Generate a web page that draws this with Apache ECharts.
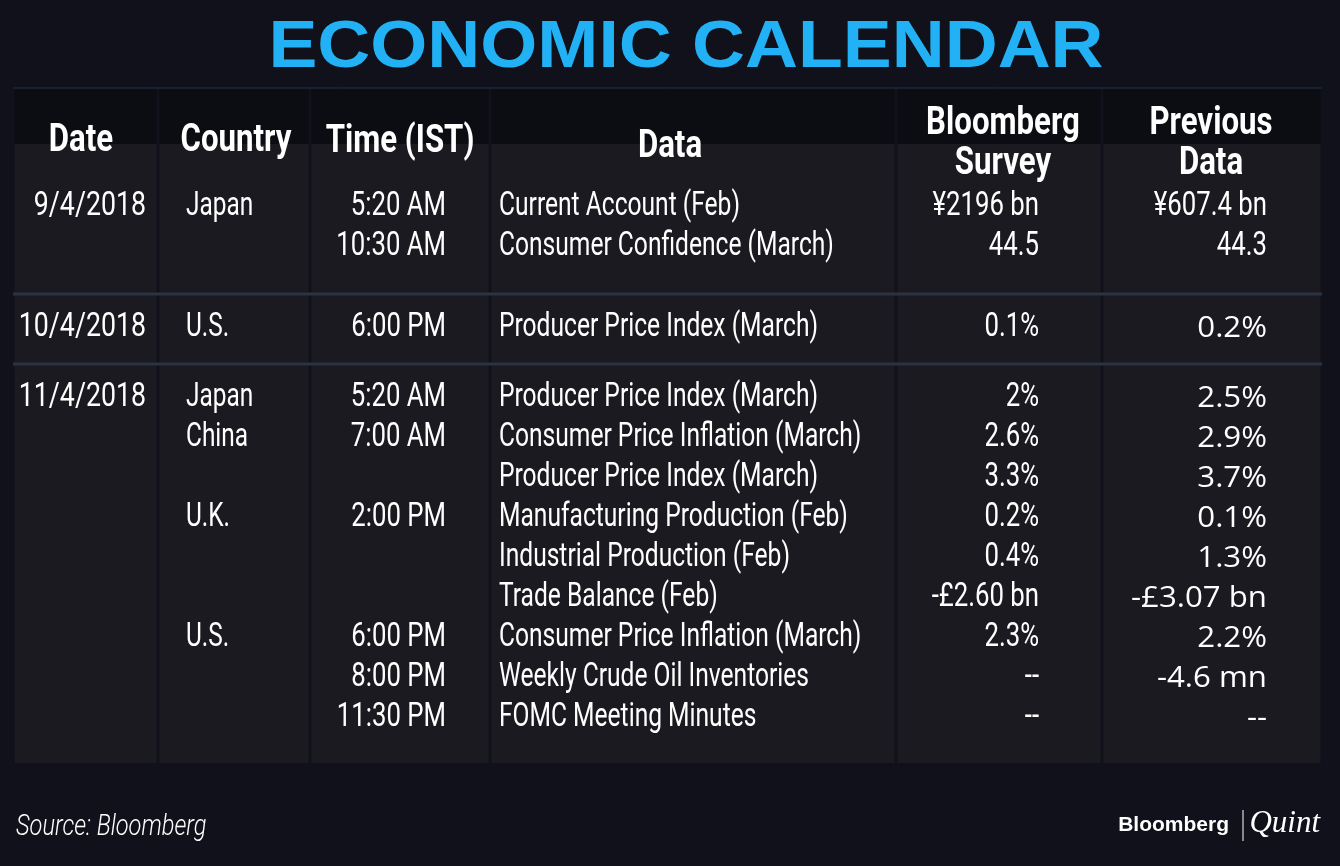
<!DOCTYPE html>
<html style="height: 100%">
<head>
<meta charset="utf-8">
<script src="https://cdn.jsdelivr.net/npm/echarts@6/dist/echarts.min.js"></script>
</head>
<body style="height: 100%; margin: 0; background: #10111a">
<div id="container" style="width: 1340px; height: 866px"></div>
<script type="text/javascript">
// table content
var headers = ['Date', 'Country', 'Time (IST)', 'Data', 'Bloomberg\nSurvey', 'Previous\nData'];
var groupOf = [0, 0, 1, 2, 2, 2, 2, 2, 2, 2, 2, 2];
var dates = ['9/4/2018', '', '10/4/2018', '11/4/2018', '', '', '', '', '', '', '', ''];
var countries = ['Japan', '', 'U.S.', 'Japan', 'China', '', 'U.K.', '', '', 'U.S.', '', ''];
var times = ['5:20 AM', '10:30 AM', '6:00 PM', '5:20 AM', '7:00 AM', '', '2:00 PM', '', '', '6:00 PM', '8:00 PM', '11:30 PM'];
var events = [
    'Current Account (Feb)',
    'Consumer Confidence (March)',
    'Producer Price Index (March)',
    'Producer Price Index (March)',
    'Consumer Price Inflation (March)',
    'Producer Price Index (March)',
    'Manufacturing Production (Feb)',
    'Industrial Production (Feb)',
    'Trade Balance (Feb)',
    'Consumer Price Inflation (March)',
    'Weekly Crude Oil Inventories',
    'FOMC Meeting Minutes'
];
var survey = ['¥2196 bn', '44.5', '0.1%', '2%', '2.6%', '3.3%', '0.2%', '0.4%', '-£2.60 bn', '2.3%', '--', '--'];
var previous = ['¥607.4 bn', '44.3', '0.2%', '2.5%', '2.9%', '3.7%', '0.1%', '1.3%', '-£3.07 bn', '2.2%', '-4.6 mn', '--'];

// layout
var TABLE_TOP = 88, HEAD_BOTTOM = 144, TABLE_BOTTOM = 763;
var FIRST_LINE = 207, PITCH = 40;
var groupShift = [0, 1.025, 1.775];   // extra lines before each row group
var cols = [
    {left: 13, right: 158, anchor: 146, align: 'right', sx: 0.81, head: 81, headY: 141},
    {left: 158, right: 310, anchor: 186, align: 'left', sx: 0.74, head: 236, headY: 141},
    {left: 310, right: 490, anchor: 446, align: 'right', sx: 0.78, head: 400, headY: 142},
    {left: 490, right: 896, anchor: 499, align: 'left', sx: 0.745, head: 670, headY: 147},
    {left: 896, right: 1102, anchor: 1039, align: 'right', sx: 0.78, head: 1003, headY: 144},
    {left: 1102, right: 1322, anchor: 1267, align: 'right', sx: 0.78, head: 1211, headY: 144}
];
var BODY_FONT = "33px Roboto, 'Liberation Sans', sans-serif";
var HEAD_FONT = "bold 39px Roboto, 'Liberation Sans', sans-serif";
var WIDE_FONT = "30px 'Open Sans', 'Noto Sans', sans-serif";

function lineY(i) {
    return FIRST_LINE + PITCH * (i + groupShift[groupOf[i]]);
}

// build cell items: [col, row, text, fontKey]
var columns = [dates, countries, times, events, survey, previous];
var cellData = [];
columns.forEach(function (arr, c) {
    arr.forEach(function (t, i) {
        if (!t) return;
        var wide = c === 5 && groupOf[i] > 0;
        cellData.push([c, i, t, wide ? 1 : 0]);
    });
});
var headData = headers.map(function (h, c) { return [c, h]; });
var sepData = [];
for (var i = 1; i < groupOf.length; i++) {
    if (groupOf[i] !== groupOf[i - 1]) sepData.push([i]);
}

var dom = document.getElementById('container');
var myChart = echarts.init(dom);

var option = {
    backgroundColor: '#10111a',
    animation: false,
    grid: {left: 0, right: 0, top: 0, bottom: 0},
    xAxis: {type: 'value', min: 0, max: 1340, show: false},
    yAxis: {type: 'value', min: 0, max: 866, inverse: true, show: false},
    graphic: [
        {
            type: 'text', x: 686, y: 49, scaleX: 1.111,
            style: {
                text: 'ECONOMIC CALENDAR', fill: '#23b1f6',
                font: "bold 66px 'Liberation Sans', Arial, sans-serif",
                align: 'center', verticalAlign: 'middle'
            }
        },
        {
            type: 'text', x: 16, y: 827, scaleX: 0.786,
            style: {
                text: 'Source: Bloomberg', fill: '#ffffff',
                font: "italic 300 30px Roboto, sans-serif",
                align: 'left', verticalAlign: 'middle'
            }
        },
        {
            type: 'text', x: 1229, y: 825,
            style: {
                text: 'Bloomberg', fill: '#ffffff',
                font: "bold 21px 'Liberation Sans', Arial, sans-serif",
                align: 'right', verticalAlign: 'middle'
            }
        },
        {
            type: 'line',
            shape: {x1: 1243, y1: 810, x2: 1243, y2: 841},
            style: {stroke: '#ffffff', lineWidth: 1}
        },
        {
            type: 'text', x: 1320, y: 824,
            style: {
                text: 'Quint', fill: '#ffffff',
                font: "italic 31px 'Liberation Serif', serif",
                align: 'right', verticalAlign: 'middle'
            }
        }
    ],
    series: [
        {
            // column cells
            type: 'custom',
            silent: true,
            data: cols.map(function (c, k) { return [k]; }),
            renderItem: function (params, api) {
                var c = cols[api.value(0)];
                var p0 = api.coord([c.left + 1.5, TABLE_TOP + 1]);
                var p1 = api.coord([c.right - 1.5, HEAD_BOTTOM]);
                var p2 = api.coord([c.right - 1.5, TABLE_BOTTOM]);
                return {
                    type: 'group',
                    children: [
                        {
                            type: 'rect',
                            shape: {x: p0[0], y: p0[1], width: p1[0] - p0[0], height: p1[1] - p0[1]},
                            style: {fill: '#0c0d12'}
                        },
                        {
                            type: 'rect',
                            shape: {x: p0[0], y: p1[1], width: p2[0] - p0[0], height: p2[1] - p1[1]},
                            style: {fill: '#1b1a20'}
                        }
                    ]
                };
            }
        },
        {
            // table top rule and group separators
            type: 'custom',
            silent: true,
            data: [[-1]].concat(sepData),
            renderItem: function (params, api) {
                var idx = api.value(0);
                var y = idx < 0 ? TABLE_TOP : lineY(idx) - 34;
                var a = api.coord([cols[0].left, y]);
                var b = api.coord([cols[5].right, y]);
                return {
                    type: 'line',
                    shape: {x1: a[0], y1: a[1], x2: b[0], y2: b[1]},
                    style: {stroke: idx < 0 ? '#1c3142' : '#2a3341', lineWidth: idx < 0 ? 1 : 3}
                };
            }
        },
        {
            // headers
            type: 'custom',
            silent: true,
            data: headData,
            renderItem: function (params, api) {
                var c = cols[api.value(0)];
                var p = api.coord([c.head, c.headY]);
                return {
                    type: 'text',
                    x: p[0], y: p[1], scaleX: 0.8,
                    style: {
                        text: headData[params.dataIndex][1],
                        fill: '#ffffff',
                        font: HEAD_FONT,
                        lineHeight: 40,
                        align: 'center', verticalAlign: 'middle',
                        textAlign: 'center', textVerticalAlign: 'middle'
                    }
                };
            }
        },
        {
            // body cells
            type: 'custom',
            silent: true,
            data: cellData,
            renderItem: function (params, api) {
                var d = cellData[params.dataIndex];
                var c = cols[d[0]];
                var p = api.coord([c.anchor, lineY(d[1])]);
                return {
                    type: 'text',
                    x: p[0], y: p[1], scaleX: d[3] ? 1.04 : c.sx,
                    style: {
                        text: d[2],
                        fill: '#ffffff',
                        font: d[3] ? WIDE_FONT : BODY_FONT,
                        align: c.align, verticalAlign: 'middle',
                        textAlign: c.align, textVerticalAlign: 'middle'
                    }
                };
            }
        }
    ]
};

myChart.setOption(option, true);
</script>
</body>
</html>
